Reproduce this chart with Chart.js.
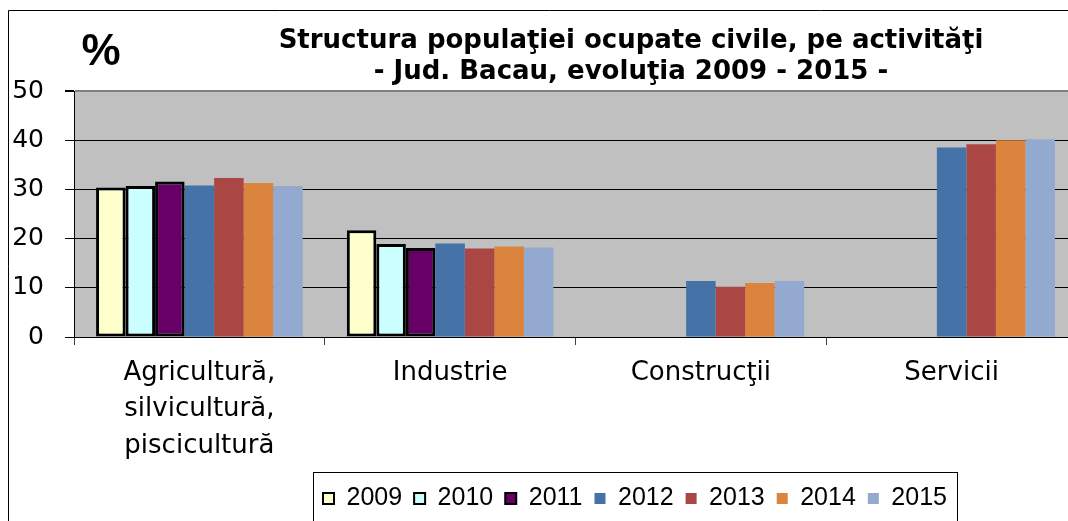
<!DOCTYPE html>
<html>
<head>
<meta charset="utf-8">
<script src="https://cdn.jsdelivr.net/npm/chart.js@4"></script>
<style>
html, body { margin:0; padding:0; overflow:hidden; background:#fff; }
#wrap { width:1068px; height:521px; overflow:hidden; position:relative; }
</style>
</head>
<body>
<div id="wrap"><canvas id="c" width="1090" height="521"></canvas></div>
<script>
const categories = [['Agricultură,', 'silvicultură,', 'piscicultură'], 'Industrie', 'Construcţii', 'Servicii'];
const years = ['2009', '2010', '2011', '2012', '2013', '2014', '2015'];
const v2009 = [30.4, 21.7, null, null];
const v2010 = [30.7, 18.9, null, null];
const v2011 = [31.6, 18.1, null, null];
const v2012 = [30.8, 19.0, 11.4, 38.5];
const v2013 = [32.3, 18.0, 10.2, 39.2];
const v2014 = [31.3, 18.4, 11.0, 40.0];
const v2015 = [30.7, 18.2, 11.4, 40.2];
const yTicks = [0, 10, 20, 30, 40, 50];
const titleLines = ['Structura populaţiei ocupate civile, pe activităţi', '- Jud. Bacau, evoluţia 2009 - 2015 -'];
const unitLabel = '%';

const seriesValues = [v2009, v2010, v2011, v2012, v2013, v2014, v2015];
const fills = ['#FFFFCC', '#CCFFFF', '#660066', '#4572A7', '#AA4643', '#DB843D', '#93A9CF'];
const borders = ['#000000', '#000000', '#000000', '#4572A7', '#AA4643', '#DB843D', '#93A9CF'];
const bWidths = [3, 3, 3, 0, 0, 0, 0];

const datasets = years.map((y, i) => ({
  label: y,
  data: seriesValues[i],
  backgroundColor: fills[i],
  borderColor: borders[i],
  borderWidth: bWidths[i],
  borderSkipped: false,
  categoryPercentage: 0.824,
  barPercentage: 1.0
}));

const deco = {
  id: 'deco',
  beforeDraw(chart) {
    const ctx = chart.ctx, a = chart.chartArea;
    ctx.save();
    ctx.fillStyle = '#C0C0C0';
    ctx.fillRect(a.left, a.top, a.right - a.left, a.bottom - a.top);
    ctx.restore();
    // position title & legend like the reference
    const t = chart.titleBlock;
    if (t) { t.left = 231; t.right = 1031; }
    const lg = chart.legend;
    if (lg && lg.lineWidths) {
      const lw = lg.lineWidths[0];
      const pad = lg.options.labels.padding;
      lg.left = 0;
      lg.right = 2 * 323 + lw - pad;
    }
  },
  afterDraw(chart) {
    const ctx = chart.ctx;
    ctx.save();
    ctx.strokeStyle = '#000';
    ctx.lineWidth = 1;
    // outer frame
    ctx.beginPath();
    ctx.moveTo(8.5, 600); ctx.lineTo(8.5, 10.5); ctx.lineTo(1200, 10.5);
    ctx.stroke();
    // legend frame
    ctx.strokeRect(313.5, 472.5, 644, 100);
    // unit label
    ctx.fillStyle = '#000';
    ctx.font = 'bold 44px "Liberation Sans", Arial, sans-serif';
    ctx.textAlign = 'center';
    ctx.textBaseline = 'alphabetic';
    ctx.fillText(unitLabel, 101, 65);
    ctx.restore();
  }
};

new Chart(document.getElementById('c'), {
  type: 'bar',
  data: { labels: categories, datasets },
  plugins: [deco],
  options: {
    responsive: false,
    animation: false,
    devicePixelRatio: 1,
    layout: { padding: { top: 10, right: 13, bottom: 0, left: 0 } },
    plugins: {
      title: {
        display: true,
        text: titleLines,
        color: '#000',
        font: { family: 'DejaVu Sans', size: 26, weight: 'bold', lineHeight: 1.2 },
        padding: { top: 15.4, bottom: 3.2 }
      },
      legend: {
        position: 'bottom',
        labels: {
          color: '#000',
          font: { family: 'Liberation Sans', size: 25 },
          boxWidth: 11,
          boxHeight: 11,
          padding: 12,
          generateLabels(chart) {
            return Chart.defaults.plugins.legend.labels.generateLabels(chart).map(l => Object.assign(l, { lineWidth: l.lineWidth ? 2 : 0 }));
          }
        }
      },
      tooltip: { enabled: false }
    },
    scales: {
      x: {
        offset: true,
        grid: { drawOnChartArea: false, offset: true, tickLength: 8, tickColor: '#404040', tickWidth: 1 },
        border: { color: '#000', width: 1 },
        ticks: {
          color: '#000',
          font: { family: 'DejaVu Sans', size: 26, lineHeight: 1.4 },
          padding: 10,
          maxRotation: 0,
          autoSkip: false
        },
        afterFit(scale) { scale.height = 137; }
      },
      y: {
        min: 0,
        max: 50,
        afterBuildTicks(scale) { scale.ticks = yTicks.map(v => ({ value: v })); },
        grid: {
          color: c => (c.tick && c.tick.value === 50) ? '#808080' : '#000',
          lineWidth: c => (c.tick && c.tick.value === 50) ? 2 : 1,
          tickLength: 9,
          tickColor: '#000'
        },
        border: { color: '#000', width: 1 },
        ticks: {
          color: '#000',
          font: { family: 'DejaVu Sans', size: 25 },
          padding: 21
        },
        afterFit(scale) { scale.width = 74; }
      }
    }
  }
});
</script>
</body>
</html>
